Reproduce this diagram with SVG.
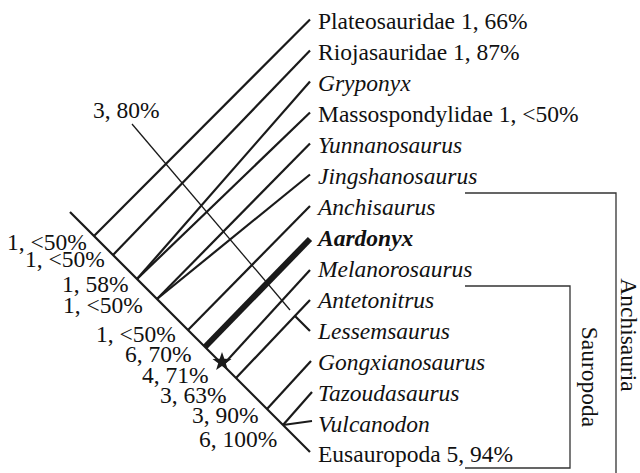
<svg xmlns="http://www.w3.org/2000/svg" width="640" height="473" viewBox="0 0 640 473">
<style>
text{font-family:'Liberation Serif','DejaVu Serif','Noto Serif',serif;font-size:23.5px;fill:#111}
.i{font-style:italic}
.b{font-weight:bold}
.br{fill:none;stroke:#333;stroke-width:1.3}
.ln{fill:none;stroke:#1a1a1a;stroke-width:2.2;stroke-linecap:butt}
.thin{stroke-width:1.3}
.thick{stroke-width:6}
</style>
<rect width="640" height="473" fill="#fff"/>
<g id="connectors">
<path class="ln" d="M70,212 L310,452"/>
<path class="ln" d="M94,236 L310,19.5"/>
<path class="ln" d="M113,255 L310,50.5"/>
<path class="ln" d="M137,279 L310,81.5"/>
<path class="ln" d="M137,279 L310,112.5"/>
<path class="ln" d="M157,299 L310,143.5"/>
<path class="ln" d="M157,299 L310,174.5"/>
<path class="ln" d="M188,330 L310,206"/>
<path class="ln thick" d="M205,347 L310,239"/>
<path class="ln" d="M223,365 L310,270"/>
<path class="ln" d="M236,378 L310,300"/>
<path class="ln" d="M295,316 L310,331"/>
<path class="ln" d="M267,409 L311,361"/>
<path class="ln" d="M283,425 L312,392"/>
<path class="ln" d="M283,425 L312,421"/>
<path class="ln thin" d="M132,124 L290,310"/>
<polygon fill="#1a1a1a" points="222,352 224.35,358.76 231.51,358.91 225.8,363.24 227.88,370.09 222,366 216.12,370.09 218.2,363.24 212.49,358.91 219.65,358.76"/>
</g>
<g id="support">
<text x="7" y="250">1, &lt;50%</text>
<text x="25" y="267">1, &lt;50%</text>
<text x="62" y="292">1, 58%</text>
<text x="63" y="313">1, &lt;50%</text>
<text x="96" y="342">1, &lt;50%</text>
<text x="125" y="362">6, 70%</text>
<text x="142" y="383">4, 71%</text>
<text x="160" y="403">3, 63%</text>
<text x="192" y="423">3, 90%</text>
<text x="199" y="447">6, 100%</text>
<text x="93" y="118">3, 80%</text>
</g>
<g id="n-plateosauridae"><text x="318" y="28.5">Plateosauridae 1, 66%</text></g>
<g id="n-riojasauridae"><text x="318" y="59.5">Riojasauridae 1, 87%</text></g>
<g id="n-gryponyx"><text class="i" x="318" y="90.5">Gryponyx</text></g>
<g id="n-massospondylidae"><text x="318" y="121.5">Massospondylidae 1, &lt;50%</text></g>
<g id="n-yunnanosaurus"><text class="i" x="318" y="152.5">Yunnanosaurus</text></g>
<g id="n-jingshanosaurus"><text class="i" x="318" y="183.5">Jingshanosaurus</text></g>
<g id="n-anchisaurus"><text class="i" x="318" y="214.5">Anchisaurus</text></g>
<g id="n-aardonyx"><text class="i b" x="318" y="245.5">Aardonyx</text></g>
<g id="n-melanorosaurus"><text class="i" x="318" y="276.5">Melanorosaurus</text></g>
<g id="n-antetonitrus"><text class="i" x="318" y="307.5">Antetonitrus</text></g>
<g id="n-lessemsaurus"><text class="i" x="318" y="338.5">Lessemsaurus</text></g>
<g id="n-gongxianosaurus"><text class="i" x="318" y="369.5">Gongxianosaurus</text></g>
<g id="n-tazoudasaurus"><text class="i" x="318" y="400.5">Tazoudasaurus</text></g>
<g id="n-vulcanodon"><text class="i" x="318" y="431.5">Vulcanodon</text></g>
<g id="n-eusauropoda"><text x="318" y="461.5">Eusauropoda 5, 94%</text></g>
<g id="clade-anchisauria">
<path class="br" d="M465,193 H616 V473"/>
<text transform="translate(621,335) rotate(90)" text-anchor="middle">Anchisauria</text>
</g>
<g id="clade-sauropoda">
<path class="br" d="M465,286 H570 V468 H465"/>
<text transform="translate(582,377) rotate(90)" text-anchor="middle">Sauropoda</text>
</g>
</svg>
